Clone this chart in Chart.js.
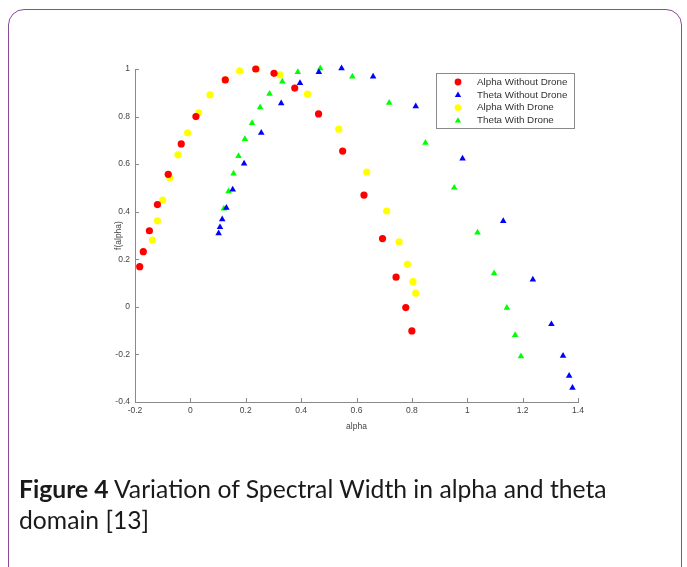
<!DOCTYPE html>
<html>
<head>
<meta charset="utf-8">
<script src="https://cdn.jsdelivr.net/npm/chart.js@4/dist/chart.umd.min.js"></script>
<style>
  html, body { margin: 0; padding: 0; background: #fff; }
  body { width: 687px; height: 567px; position: relative; overflow: hidden; }
  .card {
    position: absolute; left: 8px; top: 9px; width: 674px; height: 620px;
    border: 1.5px solid #8c4a99; border-radius: 16px; box-sizing: border-box;
  }
  #grafico { position: absolute; left: 0; top: 0; }
  .legenda-figura {
    position: absolute; left: 19px; top: 473px; width: 660px;
    font-family: Lato, "Open Sans", sans-serif; font-size: 24.7px; line-height: 31px; color: #1a1a1a;
  }
  .legenda-figura b { font-weight: 700; }
</style>
</head>
<body>
<div class="card"></div>
<canvas id="grafico" width="687" height="567"></canvas>
<div class="legenda-figura"><b>Figure 4</b> Variation of Spectral Width in alpha and theta<br>domain [13]</div>

<script>
// ===== DADOS =====
const serieNomes = ['Alpha Without Drone', 'Theta Without Drone', 'Alpha With Drone', 'Theta With Drone'];

const alphaSemX = [-0.183, -0.170, -0.148, -0.119, -0.080, -0.033, 0.020, 0.126, 0.236, 0.302, 0.377, 0.463, 0.550, 0.627, 0.694, 0.743, 0.778, 0.800];
const alphaSemY = [0.169, 0.232, 0.320, 0.430, 0.557, 0.685, 0.800, 0.954, 1.000, 0.982, 0.920, 0.811, 0.655, 0.470, 0.287, 0.125, -0.003, -0.101];

const thetaSemX = [0.102, 0.107, 0.115, 0.130, 0.153, 0.194, 0.256, 0.328, 0.396, 0.464, 0.546, 0.660, 0.814, 0.983, 1.130, 1.237, 1.304, 1.346, 1.368, 1.380];
const thetaSemY = [0.309, 0.335, 0.368, 0.416, 0.493, 0.602, 0.732, 0.856, 0.941, 0.987, 1.003, 0.968, 0.843, 0.623, 0.361, 0.115, -0.073, -0.206, -0.290, -0.340];

const alphaComX = [-0.137, -0.119, -0.100, -0.074, -0.045, -0.010, 0.030, 0.071, 0.126, 0.178, 0.239, 0.323, 0.423, 0.536, 0.637, 0.709, 0.754, 0.784, 0.804, 0.814];
const alphaComY = [0.281, 0.362, 0.449, 0.543, 0.639, 0.732, 0.816, 0.891, 0.954, 0.992, 1.000, 0.975, 0.894, 0.747, 0.567, 0.403, 0.273, 0.179, 0.106, 0.058];

const thetaComX = [0.121, 0.138, 0.156, 0.174, 0.197, 0.223, 0.252, 0.286, 0.332, 0.388, 0.469, 0.585, 0.718, 0.849, 0.953, 1.037, 1.097, 1.143, 1.173, 1.194];
const thetaComY = [0.413, 0.486, 0.560, 0.634, 0.705, 0.773, 0.839, 0.896, 0.947, 0.987, 1.003, 0.968, 0.858, 0.690, 0.501, 0.312, 0.141, -0.004, -0.119, -0.208];

const ticksX = [-0.2, 0, 0.2, 0.4, 0.6, 0.8, 1, 1.2, 1.4];
const ticksY = [-0.4, -0.2, 0, 0.2, 0.4, 0.6, 0.8, 1];

// ===== ESTILO =====
const FONTE_EIXO = "'Liberation Sans', Arial, sans-serif";
const COR_EIXO = '#8a8a8a';
const COR_TEXTO = '#444';

function pares(xs, ys) {
  return xs.map((x, i) => ({ x: x, y: ys[i] }));
}

function serie(nome, xs, ys, cor, estilo, raio) {
  return {
    label: nome,
    data: pares(xs, ys),
    backgroundColor: cor,
    borderColor: cor,
    borderWidth: 0,
    pointStyle: estilo,
    pointRadius: raio,
    pointHoverRadius: raio,
    clip: false
  };
}

// marcas de escala para dentro (estilo MATLAB)
const marcasInternas = {
  id: 'marcasInternas',
  afterDraw(chart) {
    const ctx = chart.ctx;
    const { x, y } = chart.scales;
    ctx.save();
    ctx.strokeStyle = COR_EIXO;
    ctx.lineWidth = 1;
    ctx.beginPath();
    x.ticks.forEach(t => {
      const px = Math.round(x.getPixelForValue(t.value)) + 0.5;
      ctx.moveTo(px, y.bottom);
      ctx.lineTo(px, y.bottom - 4);
    });
    y.ticks.forEach(t => {
      const py = Math.round(y.getPixelForValue(t.value)) + 0.5;
      ctx.moveTo(x.left, py);
      ctx.lineTo(x.left + 4, py);
    });
    ctx.stroke();
    ctx.restore();
  }
};

// legenda em caixa dentro da área do gráfico
const legendaCaixa = {
  id: 'legendaCaixa',
  afterDraw(chart) {
    const ctx = chart.ctx;
    const area = chart.chartArea;
    const largura = 138, altura = 55;
    const x0 = area.right - 142, y0 = area.top + 4;
    ctx.save();
    ctx.fillStyle = '#fff';
    ctx.fillRect(x0, y0, largura, altura);
    ctx.strokeStyle = COR_EIXO;
    ctx.lineWidth = 1;
    ctx.strokeRect(x0 + 0.5, y0 + 0.5, largura, altura);
    ctx.font = "9.8px " + FONTE_EIXO;
    ctx.textBaseline = 'middle';
    chart.data.datasets.forEach((ds, i) => {
      const cy = y0 + 9 + i * 12.8;
      const mx = x0 + 22;
      ctx.fillStyle = ds.backgroundColor;
      ctx.beginPath();
      if (ds.pointStyle === 'triangle') {
        ctx.moveTo(mx, cy - 3.2);
        ctx.lineTo(mx + 3.2, cy + 2.2);
        ctx.lineTo(mx - 3.2, cy + 2.2);
        ctx.closePath();
      } else {
        ctx.arc(mx, cy, 3.4, 0, Math.PI * 2);
      }
      ctx.fill();
      ctx.fillStyle = '#333';
      ctx.fillText(ds.label, x0 + 41, cy);
    });
    ctx.restore();
  }
};

const ctx = document.getElementById('grafico').getContext('2d');
new Chart(ctx, {
  type: 'scatter',
  data: {
    datasets: [
      serie(serieNomes[0], alphaSemX, alphaSemY, '#ff0000', 'circle', 3.6),
      serie(serieNomes[1], thetaSemX, thetaSemY, '#0000ff', 'triangle', 3.8),
      serie(serieNomes[2], alphaComX, alphaComY, '#ffff00', 'circle', 3.6),
      serie(serieNomes[3], thetaComX, thetaComY, '#00ff00', 'triangle', 3.8)
    ]
  },
  options: {
    responsive: false,
    animation: false,
    events: [],
    layout: { padding: { left: 100, right: 109, top: 69, bottom: 135 } },
    plugins: {
      legend: { display: false },
      tooltip: { enabled: false }
    },
    scales: {
      x: {
        type: 'linear',
        min: -0.2, max: 1.4,
        afterBuildTicks: s => { s.ticks = ticksX.map(v => ({ value: v })); },
        afterFit: s => { s.height = 30; },
        grid: { display: false, drawTicks: false },
        border: { display: true, color: COR_EIXO, width: 1 },
        ticks: {
          padding: 4, color: COR_TEXTO, maxRotation: 0, autoSkip: false,
          font: { family: FONTE_EIXO, size: 8.5 },
          callback: v => String(v)
        },
        title: {
          display: true, text: 'alpha', color: COR_TEXTO,
          font: { family: FONTE_EIXO, size: 8.5 },
          padding: { top: 4, bottom: 0 }
        }
      },
      y: {
        type: 'linear',
        min: -0.4, max: 1,
        afterBuildTicks: s => { s.ticks = ticksY.map(v => ({ value: v })); },
        afterFit: s => { s.width = 35; },
        grid: { display: false, drawTicks: false },
        border: { display: true, color: COR_EIXO, width: 1 },
        ticks: {
          padding: 5, color: COR_TEXTO, autoSkip: false,
          font: { family: FONTE_EIXO, size: 8.5 },
          callback: v => String(v)
        },
        title: {
          display: true, text: 'f(alpha)', color: COR_TEXTO,
          font: { family: FONTE_EIXO, size: 8.5 },
          padding: { top: 14, bottom: 0 }
        }
      }
    }
  },
  plugins: [marcasInternas, legendaCaixa]
});
</script>
</body>
</html>
